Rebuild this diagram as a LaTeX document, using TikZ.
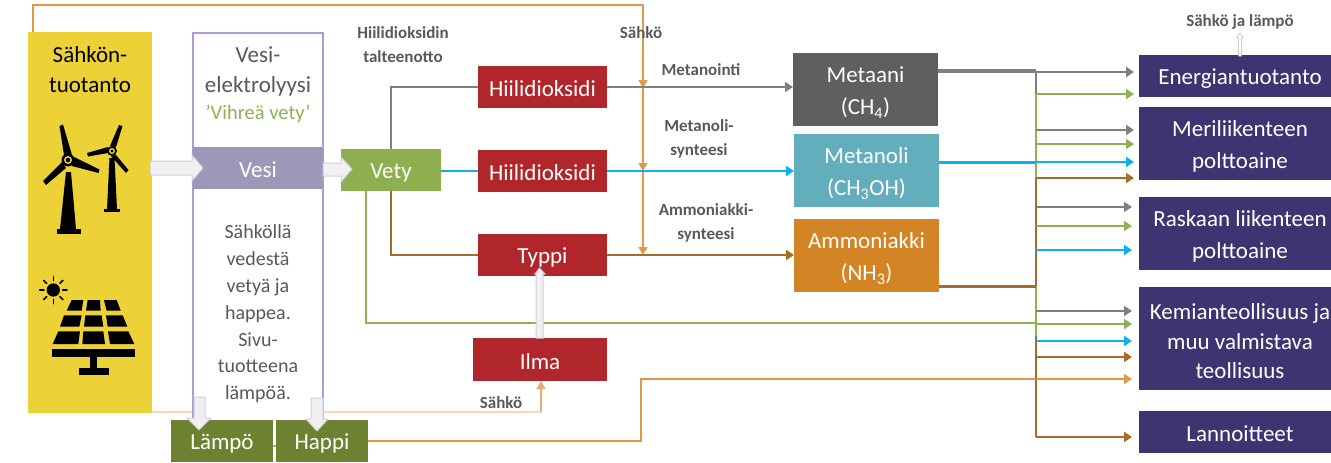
\documentclass[tikz,border=0pt]{standalone}
\usepackage{fontspec}
\setmainfont{Carlito}
\usetikzlibrary{arrows.meta,backgrounds,calc}
\definecolor{cGray}{HTML}{7F7F7F}
\definecolor{cGreen}{HTML}{8DB255}
\definecolor{cBlue}{HTML}{0CB0F0}
\definecolor{cBrown}{HTML}{A86C28}
\definecolor{cOrange}{HTML}{DF9A48}
\definecolor{cPale}{HTML}{F6D9BC}
\definecolor{cYellow}{HTML}{ECD137}
\definecolor{cFrame}{HTML}{B497D6}
\definecolor{cVesi}{HTML}{9C98B8}
\definecolor{cVety}{HTML}{8DAF50}
\definecolor{cRed}{HTML}{B0262B}
\definecolor{cMetaani}{HTML}{5F5F5F}
\definecolor{cMetanoli}{HTML}{62AEBD}
\definecolor{cAmmon}{HTML}{D38525}
\definecolor{cNavy}{HTML}{3D3571}
\definecolor{cOlive}{HTML}{6D8230}
\definecolor{cText}{HTML}{595959}
\definecolor{cBlockFill}{HTML}{F0F0F2}
\definecolor{cBlockLine}{HTML}{CFCFDC}
\newcommand{\dn}[1]{\raisebox{-2.8pt}[\height][\depth]{#1}}
\tikzset{
  x=1pt,y=-1pt,
  box/.style={inner sep=0pt,outer sep=0pt,text=white,align=center,font=\fontsize{23}{26}\selectfont,
    execute at begin node={\rule{0pt}{20pt}}},
  redbox/.style={box,fill=cRed,minimum width=129pt,minimum height=42pt},
  chembox/.style={box,minimum width=145pt,minimum height=73pt,font=\fontsize{23}{32}\selectfont},
  useBox/.style={box,fill=cNavy,minimum width=202pt,font=\fontsize{23}{32.5}\selectfont},
  label/.style={inner sep=0pt,text=cText,align=center,font=\fontsize{17}{24}\selectfont\bfseries},
  flow/.style={line width=2.4pt,-{Triangle[length=8pt,width=10pt]}},
  flowline/.style={line width=2.4pt},
  elec/.style={line width=1.4pt,draw=cOrange,-{Triangle[length=8pt,width=9pt]}},
  rowA/.style={flow,shorten >=5pt},
  rowB/.style={flow,shorten >=7pt},
  block/.style={draw=cBlockLine,line width=1pt,fill=cBlockFill,line join=miter},
}
\begin{document}
\begin{tikzpicture}
\useasboundingbox (0,0) rectangle (1331,463);
% main boxes
\node[box,fill=cYellow,minimum width=124pt,minimum height=381pt] (yellow) at (90,222.5) {};
\node[inner sep=0pt,draw=cFrame,line width=1.5pt,fill=white,minimum width=130pt,minimum height=413pt] (frame) at (258,239.5) {};
\node[box,fill=cVesi,minimum width=130pt,minimum height=42pt] (vesi) at (258,168) {Vesi};
\node[box,fill=cVety,minimum width=100pt,minimum height=42pt] (vety) at (391,170) {Vety};
\node[redbox] (co2a) at (542.5,87) {Hiilidioksidi};
\node[redbox] (co2b) at (542.5,171) {Hiilidioksidi};
\node[redbox] (typpi) at (542.5,255) {Typpi};
\node[redbox,minimum width=134pt,minimum height=43pt] (ilma) at (540,359.5) {Ilma};
\node[chembox,fill=cMetaani] (metaani) at (865.5,89.5) {\dn{Metaani}\\\dn{(CH\textsubscript{4})}};
\node[chembox,fill=cMetanoli] (metanoli) at (866.5,170.5) {\dn{Metanoli}\\\dn{(CH\textsubscript{3}OH)}};
\node[chembox,fill=cAmmon] (ammon) at (866.5,255.5) {\dn{Ammoniakki}\\\dn{(NH\textsubscript{3})}};
\node[useBox,minimum height=42pt] (energia) at (1240,76) {Energiantuotanto};
\node[useBox,minimum height=73pt] (meri) at (1240,143.5) {\dn{Meriliikenteen}\\\dn{polttoaine}};
\node[useBox,minimum height=73pt] (raskas) at (1240,233.5) {\dn{Raskaan liikenteen}\\\dn{polttoaine}};
\node[useBox,minimum height=103pt,font=\fontsize{23}{29.5}\selectfont] (kemia) at (1240,338.5) {\dn{Kemianteollisuus ja}\\\dn{muu valmistava}\\\dn{teollisuus}};
\node[useBox,minimum height=42pt] (lannoite) at (1240,432) {Lannoitteet};
\node[box,fill=cOlive,minimum width=102pt,minimum height=42pt] (lampo) at (222,441) {Lämpö};
\node[box,fill=cOlive,minimum width=92pt,minimum height=42pt] (happi) at (322,441) {Happi};
% texts
\node[inner sep=0pt,align=center,font=\fontsize{23}{30}\selectfont] (sahkotxt) at (90,70) {Sähkön-\\tuotanto};
\node[inner sep=0pt,align=center,text=cText,font=\fontsize{23}{30}\selectfont] (elektro) at (258,71) {Vesi-\\elektrolyysi};
\node[inner sep=0pt,text=cGreen,font=\fontsize{20.5}{22}\selectfont] (vihrea) at (258,114) {’Vihreä vety’};
\node[inner sep=0pt,align=center,text=cText,font=\fontsize{20}{26.8}\selectfont] (kuvaus) at (258,314) {Sähköllä\\vedestä\\vetyä ja\\happea.\\Sivu-\\tuotteena\\lämpöä.};
\node[label] (talteen) at (403,45) {Hiilidioksidin\\talteenotto};
\node[label] (sahko1) at (641,33) {Sähkö};
\node[label] (metanointi) at (701,70) {Metanointi};
\node[label] (metsyn) at (699,139) {Metanoli-\\synteesi};
\node[label] (amsyn) at (706,223) {Ammoniakki-\\synteesi};
\node[label] (sahko2) at (501,403) {Sähkö};
\node[label] (sahkolampo) at (1240,22) {Sähkö ja lämpö};
% named free ends
\coordinate (topL) at (33,5);
\coordinate (topR) at (643,5);
\coordinate (topS) at (33,32);
\coordinate (paleS) at (152,412);
\coordinate (paleC) at (541,412);
\coordinate (happiC) at (641,441);
\coordinate (happiD) at (641,379);
\coordinate (greenC) at (366,323);
\coordinate (busTop) at (1036,71);
\coordinate (busOut) at (1036,286);
\coordinate (busGreenEnd) at (1036,336);
\coordinate (busEnd) at (1036,437);
\coordinate (metaaniOut) at (938,71);
\coordinate (ammonOut) at (939,286);
\coordinate (brownTop) at (1036,178);
\coordinate (greenTop) at (1036,94);
\foreach \n/\y in {g1/72,g2/130,g3/207,g4/311,v1/94,v2/144,v3/226,v4/324,b1/162,b2/250,b3/341,r1/178,r2/357,r3/437,o1/379}
  \coordinate (row\n) at (1036,\y);
\coordinate (sahkoA) at (643,88);
\coordinate (sahkoB) at (643,171);
\coordinate (sahkoC) at (643,255);
\begin{scope}[on background layer]
  % electricity
  \draw[line width=2pt,draw=cOrange] (topS) -- (topL) -- (topR) -- (sahkoA);
  \draw[elec] (topR) -- (sahkoA);
  \draw[elec] (sahkoA) -- (sahkoB);
  \draw[elec] (sahkoB) -- (sahkoC);
  \draw[line width=1.4pt,draw=cPale] (paleS) -- (paleC);
  \draw[line width=1.4pt,draw=cOrange!70!cPale,-{Triangle[length=8pt,width=9pt]}] (paleC) -- (ilma.south -| paleC);
  % flows through the middle
  \draw[flowline,draw=cGray] (vety.north) |- (co2a.west);
  \draw[flow,draw=cGray,fill=cGray] (co2a.east) -- (metaani.west |- co2a.east);
  \draw[flowline,draw=cBlue] (vety.east |- co2b.west) -- (co2b.west);
  \draw[flow,draw=cBlue,fill=cBlue] (co2b.east) -- (metanoli.west |- co2b.east);
  \draw[flowline,draw=cBrown] (vety.south) |- (typpi.west);
  \draw[flow,draw=cBrown,fill=cBrown] (typpi.east) -- (ammon.west |- typpi.east);
  \draw[flowline,draw=cGreen] (vety.south -| greenC) |- (greenC -| busTop);
  \draw[flowline,draw=cOrange] (happi.east) -- (happiC) -- (happiD) -- (rowo1);
  % bus
  \draw[line width=4.5pt,draw=cGray] (metaaniOut) -- (busTop);
  \draw[line width=2.8pt,draw=cGray] (busTop) -- (greenTop);
  \draw[line width=2.8pt,draw=cGreen] (greenTop) -- (busGreenEnd);
  \draw[line width=3pt,draw=cBlue] (metanoli.east |- rowb1) -- (rowb1);
  \draw[line width=1.8pt,draw=cBrown] (brownTop) -- (busOut);
  \draw[line width=3pt,draw=cBrown] (ammonOut) -- (busOut);
  \draw[line width=2.2pt,draw=cBrown] (busGreenEnd) -- (busEnd);
  % rows
  \foreach \n/\t in {g1/energia,g2/meri}
    \draw[rowA,draw=cGray,fill=cGray] (row\n) -- (row\n -| \t.west);
  \foreach \n/\t in {g3/raskas,g4/kemia}
    \draw[rowB,draw=cGray,fill=cGray] (row\n) -- (row\n -| \t.west);
  \foreach \n/\t in {v1/energia,v2/meri}
    \draw[rowA,draw=cGreen,fill=cGreen] (row\n) -- (row\n -| \t.west);
  \foreach \n/\t in {v3/raskas,v4/kemia}
    \draw[rowB,draw=cGreen,fill=cGreen] (row\n) -- (row\n -| \t.west);
  \draw[rowA,draw=cBlue,fill=cBlue] (rowb1) -- (rowb1 -| meri.west);
  \foreach \n/\t in {b2/raskas,b3/kemia}
    \draw[rowB,draw=cBlue,fill=cBlue] (row\n) -- (row\n -| \t.west);
  \draw[rowA,draw=cBrown,fill=cBrown] (rowr1) -- (rowr1 -| meri.west);
  \foreach \n/\t in {r2/kemia,r3/lannoite}
    \draw[rowB,draw=cBrown,fill=cBrown] (row\n) -- (row\n -| \t.west);
  \draw[rowB,draw=cOrange,fill=cOrange] (rowo1) -- (rowo1 -| kemia.west);
\end{scope}
% block arrows
\path[block] (203,168) -- (192,155) -- (192,161) -- (150,161) -- (150,175) -- (192,175) -- (192,181) -- cycle;
\path[block] (352,169) -- (341,157) -- (341,163) -- (323,163) -- (323,176) -- (341,176) -- (341,182) -- cycle;
\path[block] (199,430) -- (187,418) -- (194,418) -- (194,397) -- (205,397) -- (205,418) -- (211,418) -- cycle;
\path[block] (317,431) -- (306,419) -- (311,419) -- (311,398) -- (323,398) -- (323,419) -- (328,419) -- cycle;
\path[block] (539.5,268) -- (535,274) -- (536,274) -- (536,338) -- (543,338) -- (543,274) -- (545,274) -- cycle;
\path[draw=cBlockLine,line width=.8pt,fill=white] (1240,33) -- (1236.5,38) -- (1238.5,38) -- (1238.5,56) -- (1241.5,56) -- (1241.5,38) -- (1243.5,38) -- cycle;
% wind turbines
\fill (66,172) -- (71,172) -- (76,229) -- (60,229) -- cycle;
\fill (57,229) rectangle (81,234);
\fill (59.5,126) -- (63,124.5) -- (72,155) -- (64,155) -- cycle;
\fill (74,157) -- (99.5,169.5) -- (98.5,173) -- (72,166) -- cycle;
\fill (46,185) -- (43,181) -- (62,162) -- (66,168) -- cycle;
\fill (68,160) circle[radius=6.5];
\fill[cYellow] (68,160) circle[radius=4];
\fill (68,160) circle[radius=2.3];
\fill (109.5,158) -- (114.5,158) -- (117,209) -- (107,209) -- cycle;
\fill (104,209) rectangle (120,212);
\fill (119,125) -- (122.5,126) -- (116,147) -- (110,146) -- cycle;
\fill (87,153) -- (108,147) -- (108,153) -- (88,156.5) -- cycle;
\fill (116,155) -- (128.5,170) -- (126,173) -- (111,156) -- cycle;
\fill (112,151) circle[radius=5];
\fill[cYellow] (112,151) circle[radius=3];
\fill (112,151) circle[radius=1.7];
% solar panel (scope in 3x zoom units)
\begin{scope}[shift={(0,240)},x=0.33333pt,y=-0.33333pt]
  \fill (160,150) circle[radius=20];
  \foreach \a in {0,45,...,315}
    \draw[line width=1.6pt,line cap=round] (160,150) ++(\a:28) -- ++(\a:13);
  \fill (215,180) -- (250,180) -- (245,212) -- (200,212) -- cycle;
  \fill (263,180) -- (300,180) -- (302,212) -- (258,212) -- cycle;
  \fill (312,180) -- (350,180) -- (362,212) -- (320,212) -- cycle;
  \fill (192,226) -- (245,226) -- (238,260) -- (180,260) -- cycle;
  \fill (256,226) -- (305,226) -- (310,260) -- (252,260) -- cycle;
  \fill (318,226) -- (368,226) -- (382,260) -- (323,260) -- cycle;
  \fill (175,274) -- (240,274) -- (235,312) -- (158,312) -- cycle;
  \fill (250,274) -- (310,274) -- (315,312) -- (247,312) -- cycle;
  \fill (324,274) -- (385,274) -- (403,312) -- (330,312) -- cycle;
  \fill (157,326) rectangle (404,350);
  \fill (270,350) rectangle (292,385);
  \fill (236,385) rectangle (326,406);
\end{scope}
\end{tikzpicture}
\end{document}
